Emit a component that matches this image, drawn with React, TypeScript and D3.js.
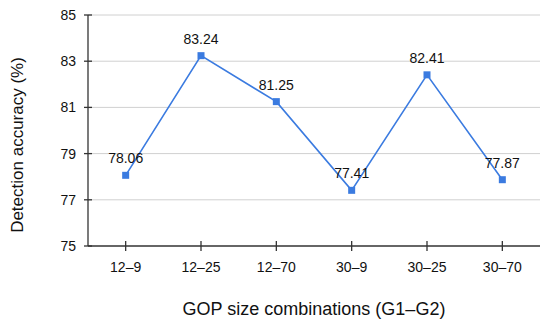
import React from "react";
import * as d3 from "d3";

const categories = ["12–9", "12–25", "12–70", "30–9", "30–25", "30–70"];
const values = [78.06, 83.24, 81.25, 77.41, 82.41, 77.87];
const yTicks = [75, 77, 79, 81, 83, 85];

export default function App() {
  const W = 550, H = 328;
  const left = 88, right = 540, top = 15, bottom = 246;
  const x = d3.scalePoint<string>().domain(categories).range([left, right]).padding(0.5);
  const y = d3.scaleLinear().domain([75, 85]).range([bottom, top]);
  const line = d3.line<number>().x((_, i) => x(categories[i])!).y(d => y(d));
  const font = "'Liberation Sans', Arial, sans-serif";
  const color = "#3b7be0";
  return (
    <svg width={W} height={H} style={{ position: "absolute", left: 0, top: 0 }} fontFamily={font}>
      <rect width={W} height={H} fill="#fff" />
      {yTicks.slice(1).map(t => (
        <line key={t} x1={left} x2={right} y1={y(t)} y2={y(t)} stroke="#d0d0d0" strokeWidth={1} />
      ))}
      <line x1={left} x2={left} y1={top} y2={bottom} stroke="#333" strokeWidth={1.3} />
      <line x1={left} x2={right} y1={bottom} y2={bottom} stroke="#333" strokeWidth={1.3} />
      {yTicks.map(t => (
        <g key={t}>
          <line x1={left - 4} x2={left + 4} y1={y(t)} y2={y(t)} stroke="#333" strokeWidth={1.3} />
          <text x={left - 12} y={y(t)} dy="0.35em" textAnchor="end" fontSize={14} fill="#111">{t}</text>
        </g>
      ))}
      {categories.map(c => (
        <g key={c}>
          <line x1={x(c)} x2={x(c)} y1={bottom - 5} y2={bottom + 5} stroke="#333" strokeWidth={1.3} />
          <text x={x(c)} y={bottom + 26} textAnchor="middle" fontSize={14} fill="#111">{c}</text>
        </g>
      ))}
      <path d={line(values)!} fill="none" stroke={color} strokeWidth={1.6} />
      {values.map((v, i) => (
        <rect key={i} x={x(categories[i])! - 3.5} y={y(v) - 3.5} width={7} height={7} fill={color} />
      ))}
      {values.map((v, i) => (
        <text key={"l" + i} x={x(categories[i])!} y={y(v) - 12} textAnchor="middle" fontSize={14} fill="#111">{v.toFixed(2)}</text>
      ))}
      <text x={314} y={315} textAnchor="middle" fontSize={18} fill="#111">GOP size combinations (G1–G2)</text>
      <text transform={`translate(23,145) rotate(-90)`} textAnchor="middle" fontSize={17} fill="#111">Detection accuracy (%)</text>
    </svg>
  );
}
